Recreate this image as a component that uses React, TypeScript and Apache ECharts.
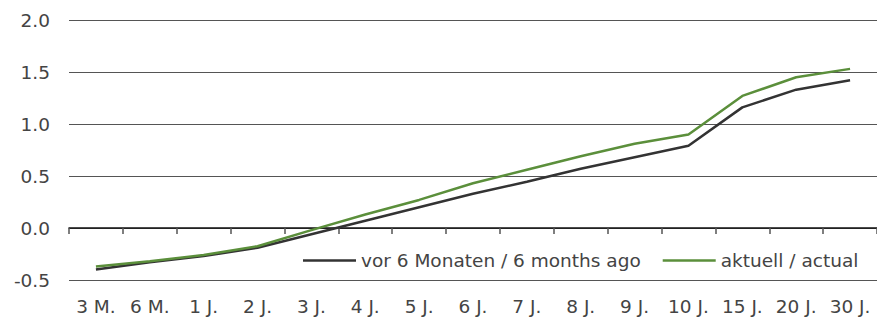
import React, { useEffect, useRef } from "react";
import * as echarts from "echarts";

const categories = ["3 M.", "6 M.", "1 J.", "2 J.", "3 J.", "4 J.", "5 J.", "6 J.", "7 J.", "8 J.", "9 J.", "10 J.", "15 J.", "20 J.", "30 J."];
const sixMonthsAgo = [-0.40, -0.33, -0.27, -0.19, -0.06, 0.07, 0.20, 0.33, 0.445, 0.57, 0.68, 0.79, 1.16, 1.33, 1.42];
const actual = [-0.37, -0.32, -0.26, -0.175, -0.02, 0.13, 0.27, 0.43, 0.56, 0.69, 0.81, 0.90, 1.27, 1.45, 1.53];
const yTicks = { min: -0.5, max: 2.0, interval: 0.5 };
const seriesNames = ["vor 6 Monaten / 6 months ago", "aktuell / actual"];

const FONT = "'DejaVu Sans', sans-serif";
const FS = 18.5;

export default function App() {
  const ref = useRef<HTMLDivElement>(null);
  useEffect(() => {
    document.body.style.margin = "0";
    const chart = echarts.init(ref.current!, null, { renderer: "svg" });
    chart.setOption({
      animation: false,
      textStyle: { fontFamily: FONT },
      grid: { left: 69, right: -5, top: 20, bottom: 39, containLabel: false },
      legend: {
        left: 298,
        top: 246,
        itemWidth: 53,
        itemHeight: 2.5,
        itemGap: 22,
        icon: "rect",
        textStyle: { fontFamily: FONT, fontSize: FS, color: "#444" },
        data: seriesNames,
      },
      xAxis: [
        {
          type: "category",
          data: categories,
          position: "bottom",
          axisLine: { show: false },
          axisTick: { show: false },
          axisLabel: { fontFamily: FONT, fontSize: FS, color: "#444", margin: 17, interval: 0 },
        },
        {
          type: "category",
          data: categories,
          position: "bottom",
          axisLine: { show: true, onZero: true, onZeroAxisIndex: 0, lineStyle: { color: "#111", width: 1.5 } },
          axisTick: { show: true, length: 6, lineStyle: { color: "#555", width: 1.5 } },
          axisLabel: { show: false },
        },
      ],
      yAxis: {
        type: "value",
        min: yTicks.min,
        max: yTicks.max,
        interval: yTicks.interval,
        axisLine: { show: false },
        axisTick: { show: false },
        axisLabel: { fontFamily: FONT, fontSize: FS, color: "#444", margin: 19, formatter: (v: number) => v.toFixed(1) },
        splitLine: { lineStyle: { color: "#555", width: 1 } },
      },
      series: [
        {
          name: seriesNames[0],
          type: "line",
          data: sixMonthsAgo,
          symbol: "none",
          lineStyle: { color: "#333333", width: 2.5 },
          itemStyle: { color: "#333333" },
        },
        {
          name: seriesNames[1],
          type: "line",
          data: actual,
          symbol: "none",
          lineStyle: { color: "#5b8f3b", width: 2.5 },
          itemStyle: { color: "#5b8f3b" },
        },
      ],
    });
    return () => chart.dispose();
  }, []);
  return <div ref={ref} style={{ width: 877, height: 319 }} />;
}
